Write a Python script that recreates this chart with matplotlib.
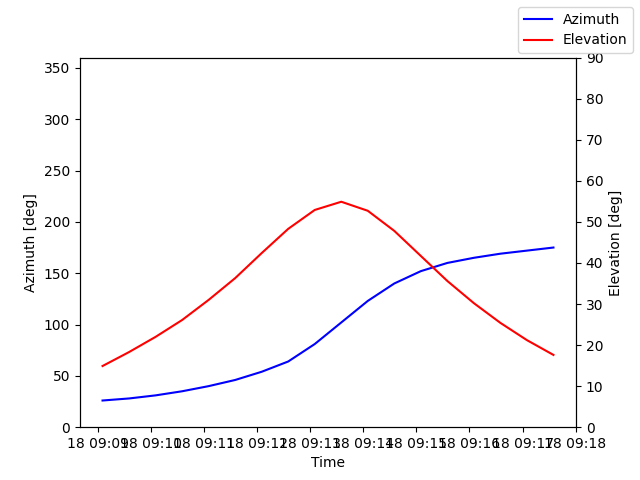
import matplotlib
matplotlib.use("Agg")
import matplotlib.pyplot as plt
import matplotlib.dates as mdates
import pandas as pd

times = pd.date_range("2024-01-18 09:09:05", periods=18, freq="30s")
azimuth = [26, 28, 31, 35, 40, 46, 54, 64, 81, 102, 123, 140, 152, 160, 165, 169, 172, 175]
elevation = [14.9, 18.3, 22.0, 26.1, 31.0, 36.3, 42.4, 48.3, 52.9, 54.9, 52.7, 47.8, 41.7, 35.6, 30.2, 25.4, 21.2, 17.6]

fig, ax = plt.subplots(figsize=(6.4, 4.8), dpi=100)
ax.plot(times, azimuth, color="blue", label="Azimuth")
ax.set_ylim(0, 360)
ax.set_ylabel("Azimuth [deg]")
ax.set_xlabel("Time")
ax2 = ax.twinx()
ax2.plot(times, elevation, color="red", label="Elevation")
ax2.set_ylim(0, 90)
ax2.set_ylabel("Elevation [deg]")
ax.xaxis.set_major_locator(mdates.MinuteLocator())
ax.xaxis.set_major_formatter(mdates.DateFormatter("%d %H:%M"))
fig.legend(loc="upper right")
fig.savefig("out.png")
